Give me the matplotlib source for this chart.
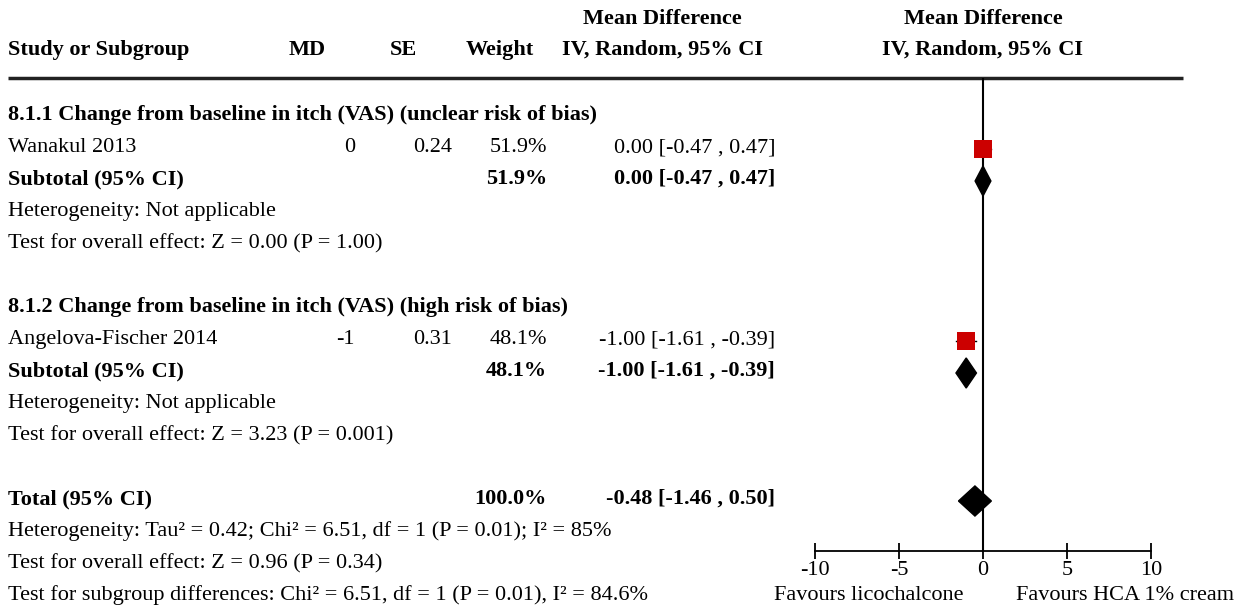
import numpy as np
import matplotlib.pyplot as plt
from matplotlib.patches import Polygon

plt.rcParams['font.family'] = ['Liberation Serif', 'DejaVu Serif']

# Daten
studies = ["Wanakul 2013", "Angelova-Fischer 2014"]
md = [0, -1]
se = [0.24, 0.31]
weights = [51.9, 48.1]
ci_lo = [-0.47, -1.61]
ci_hi = [0.47, -0.39]

subgroups = ["8.1.1 Change from baseline in itch (VAS) (unclear risk of bias)",
             "8.1.2 Change from baseline in itch (VAS) (high risk of bias)"]
sub_est = [0.00, -1.00]
sub_lo = [-0.47, -1.61]
sub_hi = [0.47, -0.39]
sub_weight = [51.9, 48.1]
sub_het = ["Heterogeneity: Not applicable", "Heterogeneity: Not applicable"]
sub_test = ["Test for overall effect: Z = 0.00 (P = 1.00)",
            "Test for overall effect: Z = 3.23 (P = 0.001)"]

total_est = -0.48
total_lo = -1.46
total_hi = 0.50
total_notes = ["Heterogeneity: Tau² = 0.42; Chi² = 6.51, df = 1 (P = 0.01); I² = 85%",
               "Test for overall effect: Z = 0.96 (P = 0.34)",
               "Test for subgroup differences: Chi² = 6.51, df = 1 (P = 0.01), I² = 84.6%"]

xticks = [-10, -5, 0, 5, 10]
fav_left = "Favours licochalcone"
fav_right = "Favours HCA 1% cream"

W, H = 1241, 606
fs = 16
row0, dy = 113, 32   # Pixel-Zeilenraster
bl = 7               # Grundlinie unter Zeilenmitte
mark_off = 4         # Symbole sitzen etwas tiefer als der Text

def ci_str(e, lo, hi):
    return "%.2f [%.2f , %.2f]" % (e, lo, hi)

def put(x, y, s, ha='left', bold=False):
    tab.text(x, y + bl, s, fontsize=fs, fontweight='bold' if bold else 'normal',
             ha=ha, va='baseline')

f = plt.figure(figsize=(W / 100, H / 100), dpi=100)

# Tabellen-Achse in Pixelkoordinaten
tab = f.add_axes([0, 0, 1, 1])
tab.set_xlim(0, W)
tab.set_ylim(H, 0)
tab.axis('off')

# Kopfzeile
put(8, 48, "Study or Subgroup", bold=True)
put(307, 48, "MD", 'center', True)
put(403, 48, "SE", 'center', True)
put(500, 48, "Weight", 'center', True)
put(662, 17, "Mean Difference", 'center', True)
put(662, 48, "IV, Random, 95% CI", 'center', True)
put(983, 17, "Mean Difference", 'center', True)
put(983, 48, "IV, Random, 95% CI", 'center', True)
tab.plot([8, 1183], [78, 78], color='#222222', lw=2.5, solid_capstyle='butt')

x_md, x_se, x_w, x_ci = 355, 452, 547, 775

forest_rows = []   # (row, est, lo, hi, kind, weight)
r = 0
for g in range(2):
    put(8, row0 + dy * r, subgroups[g], bold=True)
    r += 1
    y = row0 + dy * r
    put(8, y, studies[g])
    put(x_md, y, "%g" % md[g], 'right')
    put(x_se, y, "%.2f" % se[g], 'right')
    put(x_w, y, "%.1f%%" % weights[g], 'right')
    put(x_ci, y, ci_str(md[g], ci_lo[g], ci_hi[g]), 'right')
    forest_rows.append((r, md[g], ci_lo[g], ci_hi[g], 'study', weights[g]))
    r += 1
    y = row0 + dy * r
    put(8, y, "Subtotal (95% CI)", bold=True)
    put(x_w, y, "%.1f%%" % sub_weight[g], 'right', True)
    put(x_ci, y, ci_str(sub_est[g], sub_lo[g], sub_hi[g]), 'right', True)
    forest_rows.append((r, sub_est[g], sub_lo[g], sub_hi[g], 'diamond', 0))
    r += 1
    put(8, row0 + dy * r, sub_het[g])
    r += 1
    put(8, row0 + dy * r, sub_test[g])
    r += 2

y = row0 + dy * r
put(8, y, "Total (95% CI)", bold=True)
put(x_w, y, "%.1f%%" % sum(weights), 'right', True)
put(x_ci, y, ci_str(total_est, total_lo, total_hi), 'right', True)
forest_rows.append((r, total_est, total_lo, total_hi, 'diamond', 0))
for i, s in enumerate(total_notes):
    put(8, row0 + dy * (r + 1 + i), s)

put(869, 593, fav_left, 'center')
put(1125, 593, fav_right, 'center')

# Forest-Achse
top_px, bot_px = 78, 551
left_px, right_px = 815, 1151
ax = f.add_axes([left_px / W, 1 - bot_px / H, (right_px - left_px) / W, (bot_px - top_px) / H])
ax.patch.set_alpha(0)
ax.set_xlim(-10, 10)
y0 = row0 + mark_off
ax.set_ylim((bot_px - y0) / dy, (top_px - y0) / dy)
for s in ['top', 'left', 'right']:
    ax.spines[s].set_visible(False)
ax.spines['bottom'].set_linewidth(1.3)
ax.set_yticks([])
ax.set_xticks(xticks)
ax.set_xticklabels([str(t) for t in xticks])
ax.tick_params(axis='x', direction='inout', length=12, width=1.3, labelsize=fs, pad=1)
ax.axvline(0, color='black', lw=1.5, zorder=1)

for (row, est, lo, hi, kind, w) in forest_rows:
    if kind == 'study':
        ax.plot([lo, hi], [row, row], color='black', lw=1, zorder=2)
        ax.plot(est, row, marker='s', color='#cc0000', markersize=13 * np.sqrt(w / 51.9),
                markeredgewidth=0, zorder=3)
    else:
        h = 0.47
        ax.add_patch(Polygon([[lo, row], [est, row - h], [hi, row], [est, row + h]],
                             closed=True, color='black', zorder=3))

f.savefig("out.png", dpi=100)
